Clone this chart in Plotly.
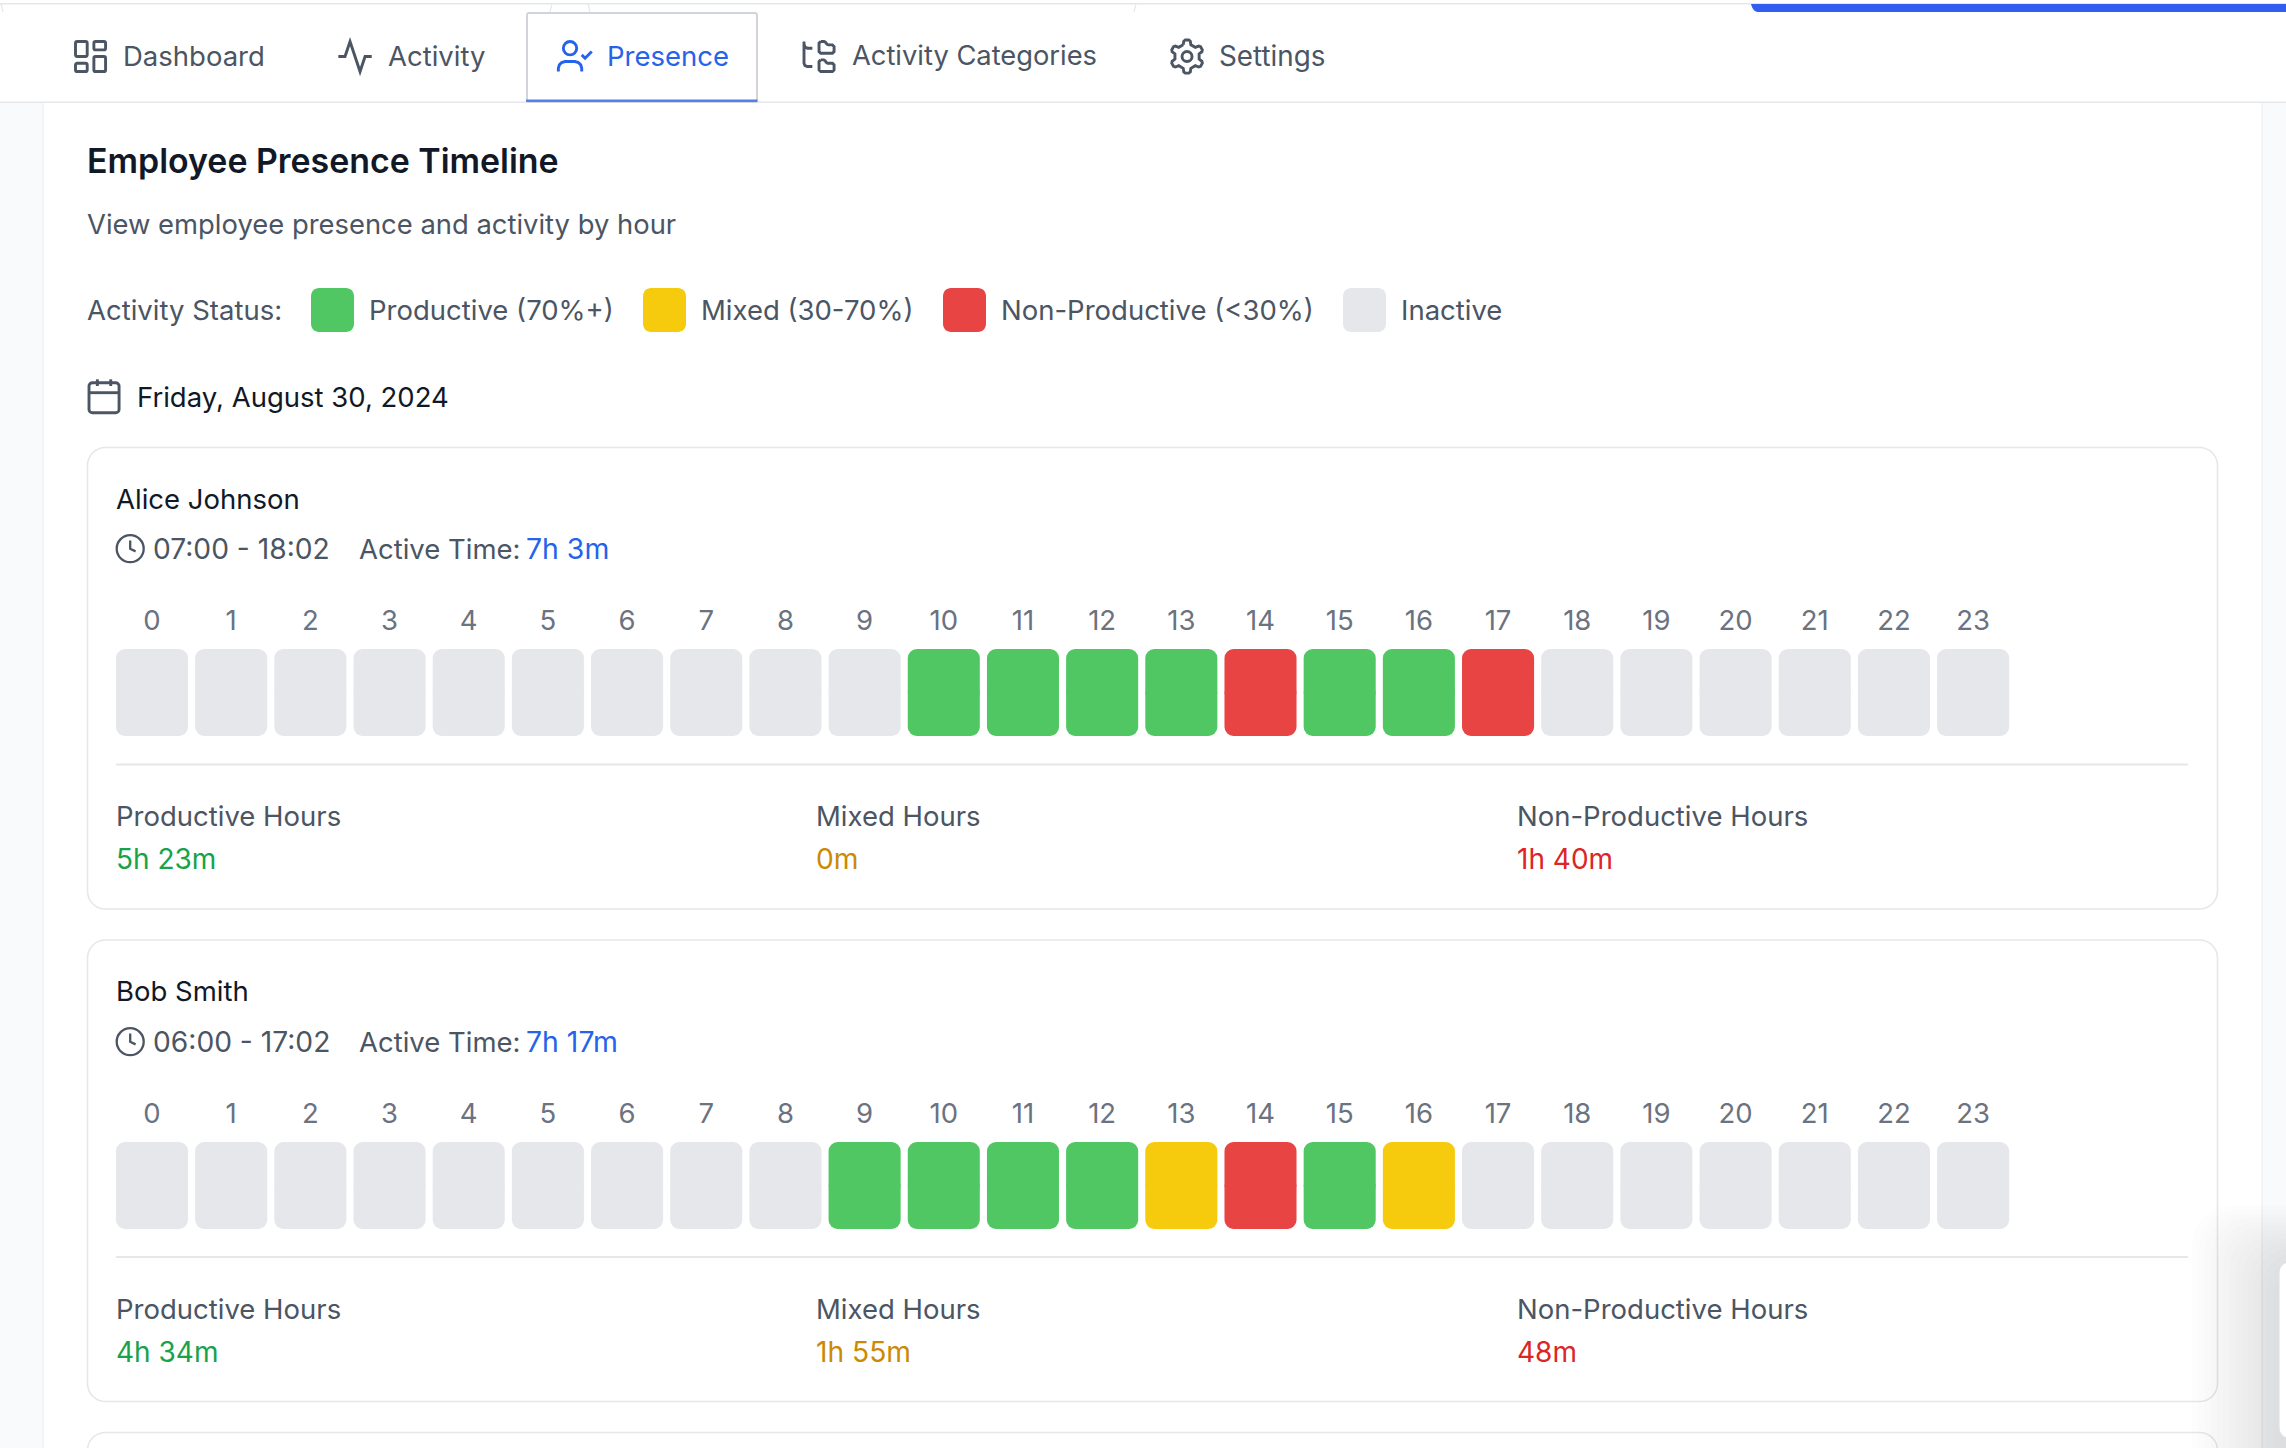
import math
import plotly.graph_objects as go

W, H = 2286, 1448
FONT = "Inter"

# ---- data ----
HOURS = [str(h) for h in range(24)]
ALICE_STATUS = ["I"] * 10 + ["P", "P", "P", "P", "N", "P", "P", "N"] + ["I"] * 6
BOB_STATUS = ["I"] * 9 + ["P", "P", "P", "P", "M", "N", "P", "M"] + ["I"] * 7
NAMES = ["Alice Johnson", "Bob Smith"]
SPANS = ["07:00 - 18:02", "06:00 - 17:02"]
ACTIVE = ["7h 3m", "7h 17m"]
PRODUCTIVE = ["5h 23m", "4h 34m"]
MIXED = ["0m", "1h 55m"]
NONPROD = ["1h 40m", "48m"]
STATUS_COLORS = {"P": "#50c763", "M": "#f6cb0e", "N": "#e84444", "I": "#e5e7eb"}
TABS = ["Dashboard", "Activity", "Presence", "Activity Categories", "Settings"]
LEGEND = ["Productive (70%+)", "Mixed (30-70%)", "Non-Productive (<30%)", "Inactive"]

GREY = "#4b5563"
DARK = "#111827"
BLUE = "#2563eb"
LINE = "#e5e7eb"
BODY = 27.5


def P(x, y):
    return f"{x / W:.6f},{1 - y / H:.6f}"


K = 0.5523


def rrect(x, y, w, h, r):
    c = r * (1 - K)
    x2, y2 = x + w, y + h
    return (
        f"M{P(x + r, y)} L{P(x2 - r, y)} C{P(x2 - c, y)} {P(x2, y + c)} {P(x2, y + r)} "
        f"L{P(x2, y2 - r)} C{P(x2, y2 - c)} {P(x2 - c, y2)} {P(x2 - r, y2)} "
        f"L{P(x + r, y2)} C{P(x + c, y2)} {P(x, y2 - c)} {P(x, y2 - r)} "
        f"L{P(x, y + r)} C{P(x, y + c)} {P(x + c, y)} {P(x + r, y)} Z"
    )


def circle(cx, cy, r):
    c = r * K
    return (
        f"M{P(cx + r, cy)} C{P(cx + r, cy + c)} {P(cx + c, cy + r)} {P(cx, cy + r)} "
        f"C{P(cx - c, cy + r)} {P(cx - r, cy + c)} {P(cx - r, cy)} "
        f"C{P(cx - r, cy - c)} {P(cx - c, cy - r)} {P(cx, cy - r)} "
        f"C{P(cx + c, cy - r)} {P(cx + r, cy - c)} {P(cx + r, cy)} Z"
    )


def poly(pts, close=False):
    s = "M" + " L".join(P(a, b) for a, b in pts)
    return s + (" Z" if close else "")


shapes = []
annotations = []


def add_path(path, fill=None, line=None, lw=0):
    d = dict(type="path", xref="paper", yref="paper", path=path, layer="below")
    d["fillcolor"] = fill if fill else "rgba(0,0,0,0)"
    d["line"] = dict(color=line, width=lw) if line else dict(width=0)
    shapes.append(d)


def add_rect(x0, y0, x1, y1, fill):
    shapes.append(dict(type="rect", xref="paper", yref="paper", x0=x0 / W, x1=x1 / W,
                       y0=1 - y1 / H, y1=1 - y0 / H, fillcolor=fill, line=dict(width=0), layer="below"))


def text(x, y, s, size=BODY, color=GREY, weight=None):
    f = dict(family=FONT, size=size, color=color)
    if weight:
        f["weight"] = weight
    annotations.append(dict(xref="paper", yref="paper", x=x / W, y=1 - y / H, text=s, showarrow=False,
                            xanchor="left", yanchor="middle", font=f, borderpad=0))


def icon(x0, y0, s, draw, color=GREY, lw=2.9):
    def T(a, b):
        return (x0 + a * s, y0 + b * s)

    def R(a, b, w, h, r):
        return rrect(x0 + a * s, y0 + b * s, w * s, h * s, r * s)

    def C(a, b, r):
        return circle(x0 + a * s, y0 + b * s, r * s)

    def L(*pts):
        return poly([T(*p) for p in pts])

    for p in draw(T, R, C, L):
        add_path(p, line=color, lw=lw)


def ic_dash(T, R, C, L):
    return [R(3, 3, 7, 9, 1), R(14, 3, 7, 5, 1), R(14, 12, 7, 9, 1), R(3, 16, 7, 5, 1)]


def ic_act(T, R, C, L):
    return [L((22, 12), (18, 12), (15, 21), (9, 3), (6, 12), (2, 12))]


def ic_user(T, R, C, L):
    return [C(9, 7, 4),
            L((2, 21), (2, 19), (2.6, 17), (4, 15.6), (6, 15), (12, 15), (14, 15.6), (15.4, 17), (16, 19), (16, 21)),
            L((16, 11), (18, 13), (22, 9))]


def ic_tree(T, R, C, L):
    return [L((3, 3), (3, 16), (3.6, 17.4), (5, 18), (8, 18)),
            L((3, 5), (3.6, 6.4), (5, 7), (8, 7)),
            L((13, 3), (15, 3), (15.8, 3.4), (16.7, 4.6), (17.5, 5), (20, 5), (21, 6), (21, 9), (20, 10), (13, 10), (12, 9), (12, 4), (13, 3)),
            L((13, 14), (14.9, 14), (15.8, 14.6), (16.2, 15.45), (17.1, 16), (20, 16), (21, 17), (21, 20), (20, 21), (13, 21), (12, 20), (12, 15), (13, 14))]


def ic_gear(T, R, C, L):
    pts = []
    n = 6
    for i in range(n):
        for da, r in ((-0.30, 7.4), (-0.20, 9.4), (-0.10, 10.0), (0.10, 10.0), (0.20, 9.4), (0.30, 7.4)):
            a = (i + da) * 2 * math.pi / n - math.pi / 2
            pts.append((12 + r * math.cos(a), 12 + r * math.sin(a)))
    pts.append(pts[0])
    return [L(*pts), C(12, 12, 3)]


def ic_cal(T, R, C, L):
    return [R(3, 4, 18, 18, 2), L((16, 2), (16, 6)), L((8, 2), (8, 6)), L((3, 10), (21, 10))]


def ic_clock(T, R, C, L):
    return [C(12, 12, 10), L((12, 6), (12, 12), (16, 14))]


# ---- page chrome ----
add_rect(0, 103, 43, H, "#f9fafb")
add_rect(2262, 103, W, H, "#f9fafb")
add_rect(42, 103, 44, H, "#f3f4f6")
add_rect(2261, 103, 2263, H, "#f3f4f6")
add_rect(0, 3, W, 4.5, LINE)
add_rect(0, 101.5, W, 103, LINE)
for x in (1, 552, 588, 1136):
    add_path(poly([(x, 4), (x + (2 if x in (1, 588) else -2), 12)]), line=LINE, lw=1.2)
add_path(f"M{P(1751, 4)} L{P(W, 4)} L{P(W, 12)} L{P(1758, 12)} C{P(1754, 12)} {P(1752, 8)} {P(1751, 4)} Z", fill="#2f5ef0")
add_path(rrect(527, 13, 230, 89, 2), fill="#ffffff", line="#d1d5db", lw=2)
add_rect(526, 99.5, 757.5, 102, "#5580e8")

# tabs
ICONS = [ic_dash, ic_act, ic_user, ic_tree, ic_gear]
ICON_X = [70.5, 335, 555, 799, 1167]
TEXT_X = [121.5, 386.5, 606, 850.5, 1218]
TEXT_S = [BODY, BODY, BODY, 27.3, 27.8]
for name, fn, ix, tx, ts in zip(TABS, ICONS, ICON_X, TEXT_X, TEXT_S):
    col = BLUE if name == "Presence" else GREY
    icon(ix, 36.5, 1.67, fn, color=col)
    text(tx, 55.5, name, color=col, size=ts)

# headings
text(86, 161, "Employee Presence Timeline", size=33.9, color=DARK, weight=600)
text(86, 224, "View employee presence and activity by hour", size=27.4, color=GREY)

# legend
text(86, 310, "Activity Status:", color=GREY)
LEG_X = [311, 643, 943, 1343]
LEG_TX = [367.5, 699.5, 999.5, 1400]
for label, k, x, tx in zip(LEGEND, "PMNI", LEG_X, LEG_TX):
    add_path(rrect(x, 288, 43, 44, 8), fill=STATUS_COLORS[k])
    text(tx, 310, label, color=GREY)

# date
icon(84, 376, 1.67, ic_cal, color=GREY)
text(135.5, 396.5, "Friday, August 30, 2024", color=DARK)

# cards
for c in range(2):
    off = c * 492.5
    toff = c * 493
    add_path(rrect(87.5, 447.5 + off, 2130, 461.5, 18), fill="#ffffff", line=LINE, lw=1.6)
    add_rect(116, 763.5 + off, 2188, 765.5 + off, LINE)
    text(115, 498.5 + toff, NAMES[c], color=DARK)
    icon(114, 532.5 + toff, 1.35, ic_clock, color=GREY, lw=2.3)
    text(151.5, 548.5 + toff, SPANS[c], color=GREY, size=28.2)
    text(358, 548.5 + toff, "Active Time:", color=GREY)
    text(525, 548.5 + toff, ACTIVE[c], color=BLUE, size=28.4)
    text(115, 815.5 + toff, "Productive Hours", color=GREY)
    text(815, 815.5 + toff, "Mixed Hours", color=GREY)
    text(1515.5, 815.5 + toff, "Non-Productive Hours", color=GREY)
    text(115, 858.5 + toff, PRODUCTIVE[c], color="#16a34a", size=28)
    text(815, 858.5 + toff, MIXED[c], color="#ca8a04", size=28.2)
    text(1515.5, 858.5 + toff, NONPROD[c], color="#dc2626", size=28)
add_path(rrect(87.5, 1432.5, 2130, 60, 18), fill="#ffffff", line=LINE, lw=1.6)

# soft shadow of the floating panel, laid over the cards
for i in range(14):
    add_path(rrect(2192 + i * 6.2, 1205 + i * 4.2, 200, 400, 40), fill="rgba(17,24,39,0.006)")
# floating panel at the right edge
add_path(rrect(2279, 1262, 40, 176, 10), fill="#ffffff", line="#dfe1e5", lw=1.2)

# ---- hour strips: each cell is a pair of overlapping bars growing from the middle, so all four corners round ----
fig = go.Figure()
STATUS = [ALICE_STATUS, BOB_STATUS]
axis_common = dict(
    type="category", categoryorder="array", categoryarray=HOURS, range=[-0.5, 23.5],
    side="top", showgrid=False, zeroline=False, showline=False, ticks="", fixedrange=True,
    tickfont=dict(family=FONT, size=27.5, color="#6b7280"), ticklabelstandoff=13, tickangle=0,
    tickmode="array", tickvals=HOURS, ticktext=HOURS,
)
X0, PITCH = 112.4, 79.18
for c, st in enumerate(STATUS):
    off = c * 493
    xa = "x" if c == 0 else "x2"
    ya = "y" if c == 0 else "y2"
    for sign in (1, -1):
        fig.add_trace(go.Bar(
            x=HOURS, y=[sign * 1.2] * len(HOURS), base=[-sign * 0.2] * len(HOURS), xaxis=xa, yaxis=ya, name=NAMES[c],
            marker=dict(color=[STATUS_COLORS[s] for s in st], cornerradius=9, line=dict(width=0)),
            showlegend=False, hoverinfo="x+name",
        ))
    key = "axis" if c == 0 else "axis2"
    fig.layout["x" + key] = dict(axis_common, domain=[X0 / W, (X0 + 24 * PITCH) / W], anchor=ya)
    fig.layout["y" + key] = dict(domain=[1 - (736 + off) / H, 1 - (649 + off) / H], range=[-1, 1], visible=False,
                                  fixedrange=True, anchor=xa)

fig.update_layout(
    width=W, height=H, margin=dict(l=0, r=0, t=0, b=0, pad=0), paper_bgcolor="#ffffff", plot_bgcolor="rgba(0,0,0,0)",
    bargap=0.09, barmode="overlay", shapes=shapes, annotations=annotations, font=dict(family=FONT), showlegend=False,
)
fig.write_html("out.html", config=dict(displayModeBar=False),
               post_script="document.body.style.margin='0';document.body.style.overflow='hidden';")
